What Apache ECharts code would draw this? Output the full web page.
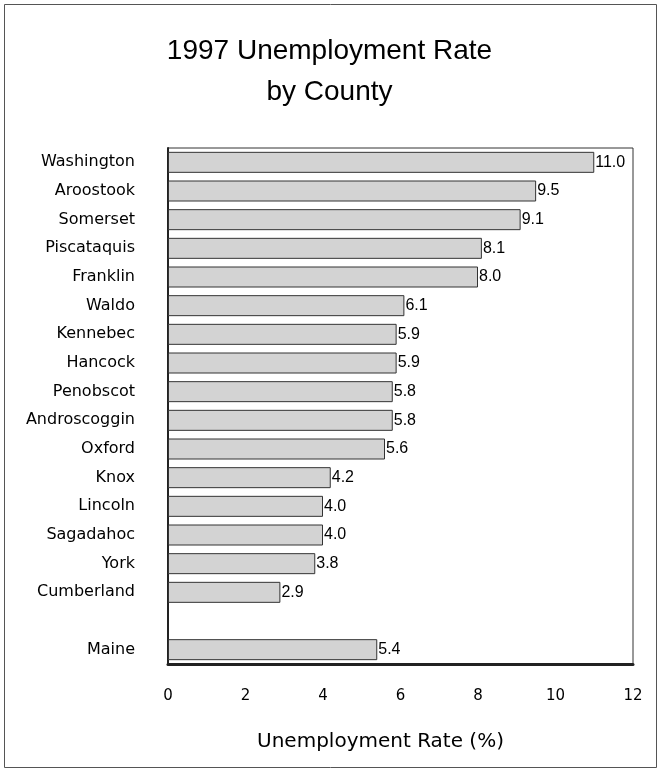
<!DOCTYPE html>
<html>
<head>
<meta charset="utf-8">
<script src="https://cdn.jsdelivr.net/npm/echarts@6/dist/echarts.min.js"></script>
<style>
html,body{margin:0;padding:0;background:#fff;}
#chart{width:659px;height:772px;}
</style>
</head>
<body>
<div id="chart"></div>
<script>
const categories = ['Washington','Aroostook','Somerset','Piscataquis','Franklin','Waldo','Kennebec','Hancock','Penobscot','Androscoggin','Oxford','Knox','Lincoln','Sagadahoc','York','Cumberland','','Maine'];
const rates = [11.0, 9.5, 9.1, 8.1, 8.0, 6.1, 5.9, 5.9, 5.8, 5.8, 5.6, 4.2, 4.0, 4.0, 3.8, 2.9, '-', 5.4];
const xTicks = [0, 2, 4, 6, 8, 10, 12];
const titleLines = ['1997 Unemployment Rate', 'by County'];
const axisTitle = 'Unemployment Rate (%)';

const chart = echarts.init(document.getElementById('chart'), null, {renderer: 'canvas'});
chart.setOption({
  backgroundColor: '#fff',
  animation: false,
  title: {
    text: titleLines.join('\n'),
    left: 'center',
    top: 26,
    textStyle: {
      fontFamily: '"Liberation Sans", Arial, sans-serif',
      fontSize: 28,
      fontWeight: 'normal',
      color: '#000',
      lineHeight: 41
    }
  },
  graphic: [{
    type: 'rect',
    shape: {x: 4.5, y: 4.5, width: 652, height: 763},
    style: {fill: 'none', stroke: '#555', lineWidth: 1},
    silent: true
  }],
  grid: {
    left: 168, right: 26, top: 148, bottom: 108,
    show: true, borderColor: '#333', borderWidth: 1, backgroundColor: 'transparent'
  },
  xAxis: {
    type: 'value',
    min: xTicks[0], max: xTicks[xTicks.length - 1], interval: 2,
    splitLine: {show: false},
    axisTick: {show: false},
    axisLine: {show: true, lineStyle: {color: '#222', width: 3}},
    axisLabel: {
      margin: 25,
      fontFamily: '"DejaVu Sans", sans-serif',
      fontSize: 15,
      color: '#000'
    },
    name: axisTitle,
    nameLocation: 'middle',
    nameGap: 68,
    nameTextStyle: {
      fontFamily: '"DejaVu Sans", sans-serif',
      fontSize: 20,
      color: '#000',
      padding: [0, 40, 0, 0]
    }
  },
  yAxis: {
    type: 'category',
    data: categories,
    inverse: true,
    axisTick: {show: false},
    axisLine: {show: true, lineStyle: {color: '#222', width: 2}},
    axisLabel: {
      margin: 33,
      fontFamily: '"DejaVu Sans", sans-serif',
      fontSize: 16,
      color: '#000'
    },
    splitLine: {show: false}
  },
  series: [{
    type: 'bar',
    data: rates,
    barWidth: 21,
    itemStyle: {color: '#d3d3d3', borderColor: '#333', borderWidth: 1},
    label: {
      show: true,
      position: 'right',
      distance: 1,
      fontFamily: '"Liberation Sans", Arial, sans-serif',
      fontSize: 16,
      color: '#000',
      formatter: p => (typeof p.value === 'number' ? p.value.toFixed(1) : '')
    }
  }]
});
</script>
</body>
</html>
